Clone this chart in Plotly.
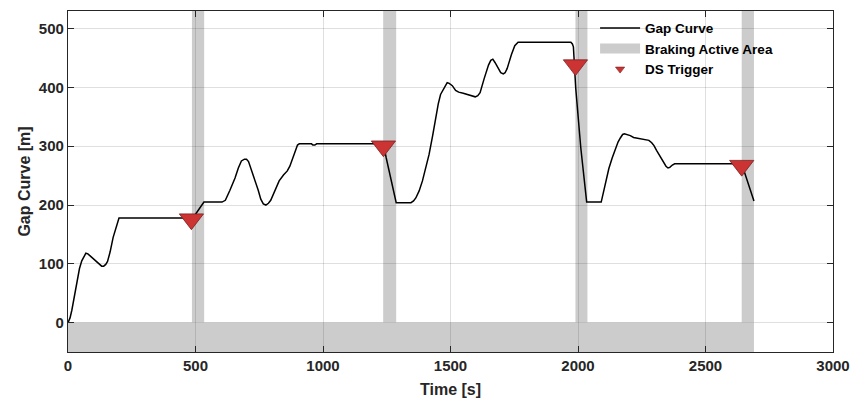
import plotly.graph_objects as go

# ---- data ----
time_s = [0, 8, 15, 25, 35, 45, 54, 62, 70, 78, 90, 106, 120, 132, 140,
          148, 155, 165, 177, 190, 200,
          490, 513, 533, 604, 617, 635, 655, 668, 680, 692, 700, 708, 718,
          731, 746, 756, 766, 776, 786, 795, 810, 828, 845, 860, 870, 879,
          890, 900, 907, 955, 960, 968, 975,
          1237, 1248, 1267, 1287, 1345, 1355, 1364, 1377, 1390, 1403, 1416,
          1430, 1442, 1452, 1461, 1474, 1481, 1487, 1495, 1507, 1520, 1532,
          1550, 1565, 1580, 1597, 1607, 1616, 1632, 1642, 1649, 1658, 1666,
          1675, 1687, 1697, 1707, 1714, 1722, 1730, 1739, 1752, 1765,
          1972, 1978, 1982, 1991, 2011, 2034, 2091, 2100, 2108, 2121, 2134,
          2147, 2157, 2166, 2175, 2182, 2193, 2205, 2218, 2230, 2245, 2263,
          2278, 2289, 2298, 2308, 2320, 2334, 2345, 2353, 2360, 2370, 2379,
          2642, 2690]
gap_m = [0, 8, 21, 45, 72, 92, 105, 113, 118, 117, 112, 107, 100, 96, 96,
         99, 104, 120, 145, 165, 178,
         178, 193, 205, 205, 208, 225, 246, 263, 275, 278, 278, 274, 262,
         246, 225, 210, 202, 200, 203, 208, 222, 241, 251, 258, 266, 277,
         292, 302, 304, 304, 302, 302, 304,
         304, 280, 241, 204, 204, 207, 212, 224, 241, 262, 286,
         318, 348, 372, 388, 399, 405, 408, 407, 403, 395, 392,
         390, 388, 387, 384, 386, 391, 415, 430, 438, 446, 448,
         442, 432, 425, 423, 425, 432, 445, 456, 471, 477,
         477, 474, 469, 399, 297, 205, 205, 222, 241, 262, 280,
         296, 307, 314, 320, 321, 320, 318, 315, 314, 313, 312,
         310, 306, 301, 293, 284, 274, 266, 263, 264, 268, 270,
         270, 207]

trigger_time = [484, 1237, 1990, 2642]
trigger_gap = [176, 300, 438, 267]

brake_start = [486, 1236, 1990, 2642]
brake_end = [534, 1287, 2037, 2690]
area_end = 2690
area_low = -50
area_high = 530

x_ticks = [0, 500, 1000, 1500, 2000, 2500, 3000]
y_ticks = [0, 100, 200, 300, 400, 500]

GRAY = "#cccccc"
TXT = "#262626"
RED = "#cc3333"
FONT = "Liberation Sans"

fig = go.Figure()

# braking area as shapes (below gridlines, like MATLAB)
shapes = [dict(type="rect", xref="x", yref="y", x0=0, x1=area_end,
               y0=area_low, y1=0, fillcolor=GRAY, line=dict(width=0),
               layer="below")]
for s, e in zip(brake_start, brake_end):
    shapes.append(dict(type="rect", xref="x", yref="y", x0=s, x1=e,
                       y0=0, y1=area_high, fillcolor=GRAY,
                       line=dict(width=0), layer="below"))

fig.add_trace(go.Scatter(x=time_s, y=gap_m, mode="lines", name="Gap Curve",
                         line=dict(color="black", width=1.5),
                         legendrank=1, hoverinfo="skip"))
# legend-only entry for the braking area
fig.add_trace(go.Scatter(x=[None], y=[None], mode="lines",
                         name="Braking Active Area",
                         line=dict(color=GRAY, width=13), legendrank=2))
fig.add_trace(go.Scatter(x=trigger_time, y=trigger_gap, mode="markers",
                         name="DS Trigger", showlegend=False,
                         marker=dict(symbol="triangle-down", size=21,
                                     color=RED,
                                     line=dict(color="#7a1f1f", width=0.8))))
fig.add_trace(go.Scatter(x=[None], y=[None], mode="markers",
                         name="DS Trigger", legendrank=3,
                         marker=dict(symbol="triangle-down", size=8,
                                     color=RED,
                                     line=dict(color="#7a1f1f", width=0.6))))

axis_common = dict(showline=True, linecolor=TXT, linewidth=1.2,
                   mirror="ticks", ticks="inside", ticklen=6,
                   tickcolor=TXT, tickwidth=1.2,
                   showgrid=True, gridcolor="rgba(38,38,38,0.15)",
                   gridwidth=1, zeroline=False,
                   tickfont=dict(family=FONT, size=15, color=TXT,
                                 weight="bold"))

fig.update_layout(
    width=860, height=405,
    margin=dict(l=68, r=18, t=10, b=53),
    paper_bgcolor="white", plot_bgcolor="white",
    shapes=shapes,
    xaxis=dict(range=[0, 3000], tickvals=x_ticks,
               title=dict(text="Time [s]", standoff=10,
                          font=dict(family=FONT, size=16, color=TXT,
                                    weight="bold")),
               **axis_common),
    yaxis=dict(range=[area_low, area_high], tickvals=y_ticks,
               title=dict(text="Gap Curve [m]", standoff=4,
                          font=dict(family=FONT, size=16, color=TXT,
                                    weight="bold")),
               **axis_common),
    legend=dict(x=0.689, y=0.995, xanchor="left", yanchor="top",
                bgcolor="rgba(0,0,0,0)", borderwidth=0,
                itemwidth=40, tracegroupgap=0,
                font=dict(family=FONT, size=13.5, color="black",
                          weight="bold")),
    showlegend=True,
)

fig.write_html("out.html")
